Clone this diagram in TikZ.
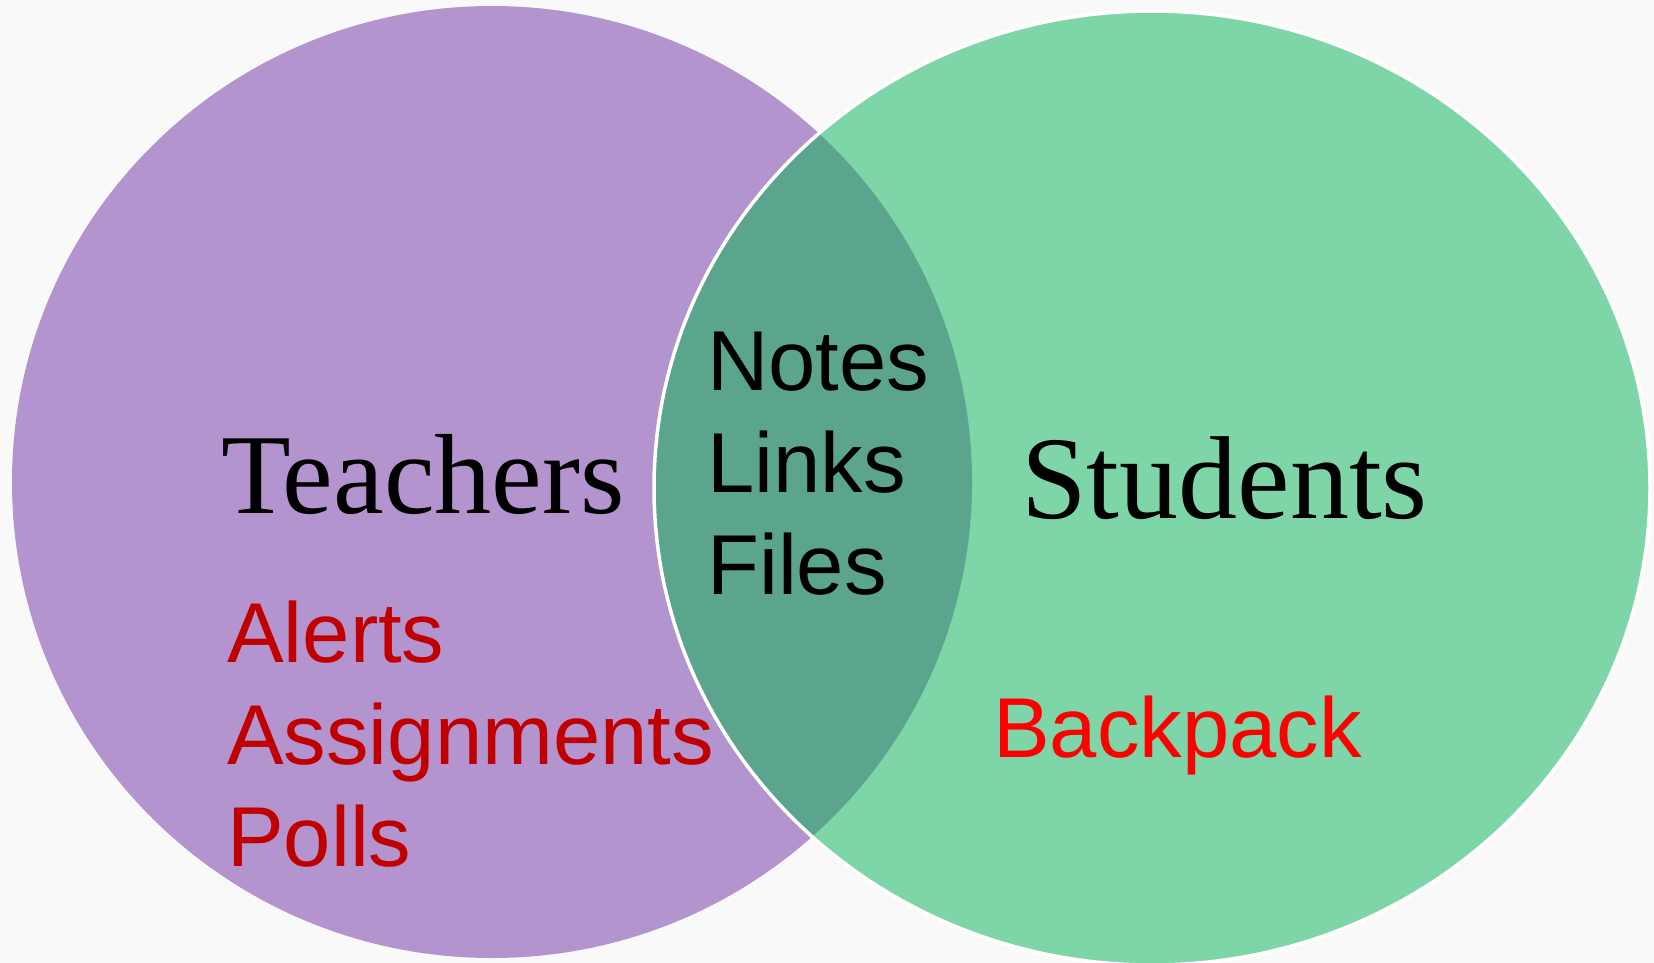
\documentclass[tikz,border=0pt]{standalone}
\usepackage{fontspec}
\setmainfont{Liberation Serif}
\setsansfont{Liberation Sans}
\definecolor{bgpaper}{RGB}{249,249,249}
\definecolor{teachfill}{RGB}{179,148,206}
\definecolor{studfill}{RGB}{125,213,168}
\definecolor{bothfill}{RGB}{91,165,143}
\definecolor{darkred}{RGB}{192,0,0}
\tikzset{
	title/.style={anchor=base west, inner sep=0pt, font=\fontsize{114}{130}\selectfont},
	item/.style={anchor=base west, inner sep=0pt, font=\sffamily\fontsize{85}{102}\selectfont}
}
\begin{document}
\begin{tikzpicture}[x=1pt, y=-1pt]
	% Hintergrund
	\fill[bgpaper] (0,0) rectangle (1654,963);
	\useasboundingbox (0,0) rectangle (1654,963);
	% Kreise
	\fill[teachfill] (492,482) ellipse [x radius=480, y radius=476];
	\fill[studfill] (1152,488) ellipse [x radius=498, y radius=477];
	\begin{scope}
		\clip (492,482) ellipse [x radius=480, y radius=476];
		\fill[bothfill] (1152,488) ellipse [x radius=498, y radius=477];
	\end{scope}
	\draw[white, line width=3.5] (1152,488) ellipse [x radius=498, y radius=477];

	% Ueberschriften
	\node[title] (teachers) at (221,513) {Teachers};
	\node[title, font=\fontsize{118}{130}\selectfont] (students) at (1021,518) {Students};

	% Lehrer
	\foreach \word [count=\i] in {Alerts,Assignments,Polls}
		\node[item, text=darkred] (teach\i) at (227, 560 + 102*\i) {\word};
	% Gemeinsam
	\foreach \word [count=\i] in {Notes,Links,Files}
		\node[item, text=black] (both\i) at (707, 288 + 102*\i) {\word};
	% Schueler
	\node[item, text=red] (stud1) at (993,757) {Backpack};
\end{tikzpicture}
\end{document}
